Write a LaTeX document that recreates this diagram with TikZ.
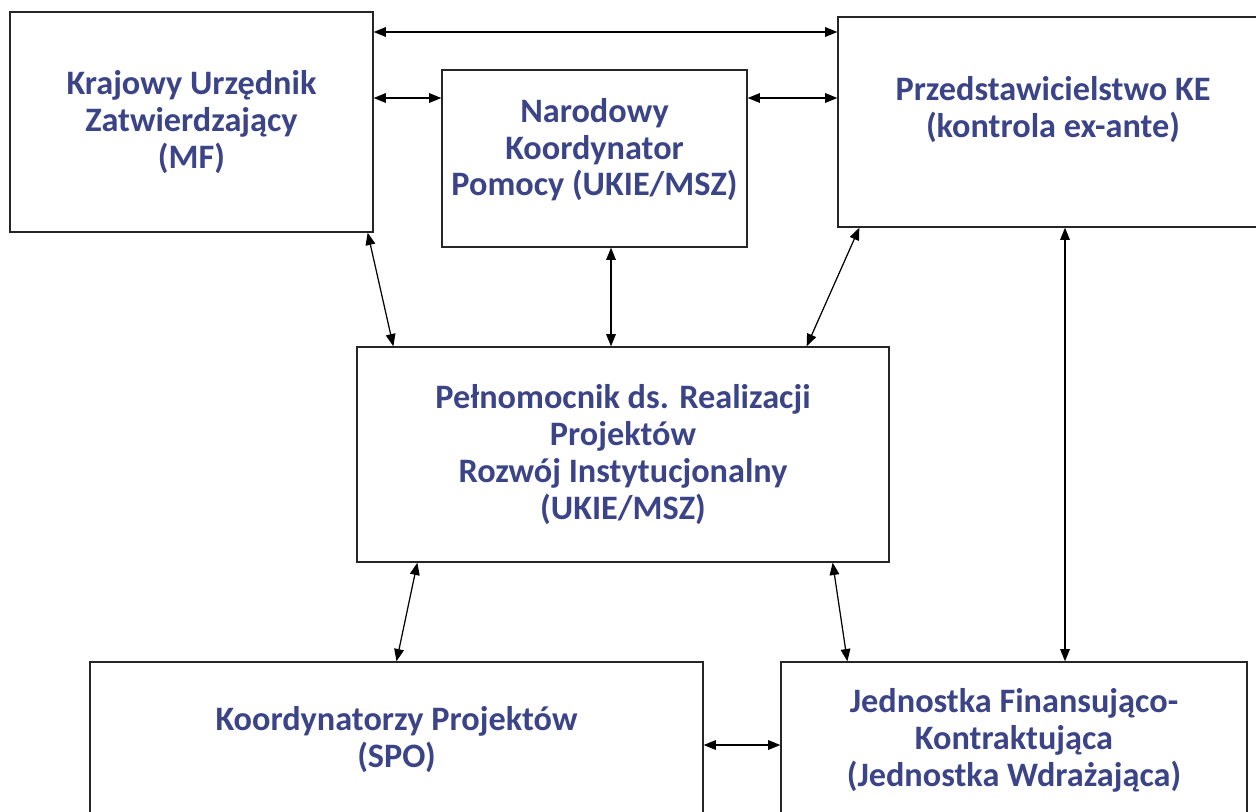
\documentclass[tikz,border=0pt]{standalone}
\usepackage{fontspec}
\setmainfont{Carlito}
\usetikzlibrary{arrows.meta, calc, positioning}
\definecolor{titleblue}{RGB}{60,68,136}
\tikzstyle{block} = [rectangle, draw=black!85, line width=0.8pt, align=center, text=titleblue, font=\bfseries\fontsize{19.5}{21}\selectfont, inner sep=0pt]
\tikzstyle{arrow} = [line width=0.7pt, {Triangle[length=7pt,width=5.5pt]}-{Triangle[length=7pt,width=5.5pt]}]

\begin{document}
\begin{tikzpicture}[x=0.02cm, y=-0.02cm]
		\clip (0,0) rectangle (1256,811);
		\node (Krajowy) [block, minimum width=7.26cm, minimum height=4.4cm] at (191.5,122) {Krajowy Urzędnik\\Zatwierdzający\\(MF)};
		\node (Narodowy) [block, minimum width=6.1cm, minimum height=3.54cm, text depth=13pt] at (594.5,158.5) {Narodowy\\Koordynator\\Pomocy (UKIE/MSZ)};
		\node (Przedstawicielstwo) [block, minimum width=8.6cm, minimum height=4.2cm, text depth=17pt] at (1053,122) {Przedstawicielstwo KE\\(kontrola ex-ante)};
		\node (Pelnomocnik) [block, minimum width=10.64cm, minimum height=4.3cm] at (623,454.5) {Pełnomocnik ds. Realizacji\\Projektów\\Rozwój Instytucjonalny\\(UKIE/MSZ)};
		\node (Koordynatorzy) [block, minimum width=12.26cm, minimum height=3.12cm] at (396.5,740) {Koordynatorzy Projektów\\(SPO)};
		\node (Jednostka) [block, minimum width=9.32cm, minimum height=3.12cm] at (1014,740) {Jednostka Finansująco-\\Kontraktująca\\(Jednostka Wdrażająca)};
		\draw [arrow] (Krajowy.east |- 0,32) -- (Przedstawicielstwo.west |- 0,32);
		\draw [arrow] (Krajowy.east |- 0,98) -- (Narodowy.west |- 0,98);
		\draw [arrow] (Narodowy.east |- 0,98) -- (Przedstawicielstwo.west |- 0,98);
		\draw [arrow] ($(Krajowy.south east)+(-6,0)$) -- ($(Pelnomocnik.north west)+(37,0)$);
		\draw [arrow] (Narodowy.south -| 611,0) -- (Pelnomocnik.north -| 611,0);
		\draw [arrow] ($(Przedstawicielstwo.south west)+(22,0)$) -- ($(Pelnomocnik.north east)+(-83,0)$);
		\draw [arrow] (Przedstawicielstwo.south -| 1065,0) -- (Jednostka.north -| 1065,0);
		\draw [arrow] ($(Pelnomocnik.south west)+(61,0)$) -- (Koordynatorzy.north);
		\draw [arrow] ($(Pelnomocnik.south east)+(-57,0)$) -- ($(Jednostka.north west)+(67,0)$);
		\draw [arrow] (Koordynatorzy.east |- 0,745) -- (Jednostka.west |- 0,745);
\end{tikzpicture}
\end{document}
